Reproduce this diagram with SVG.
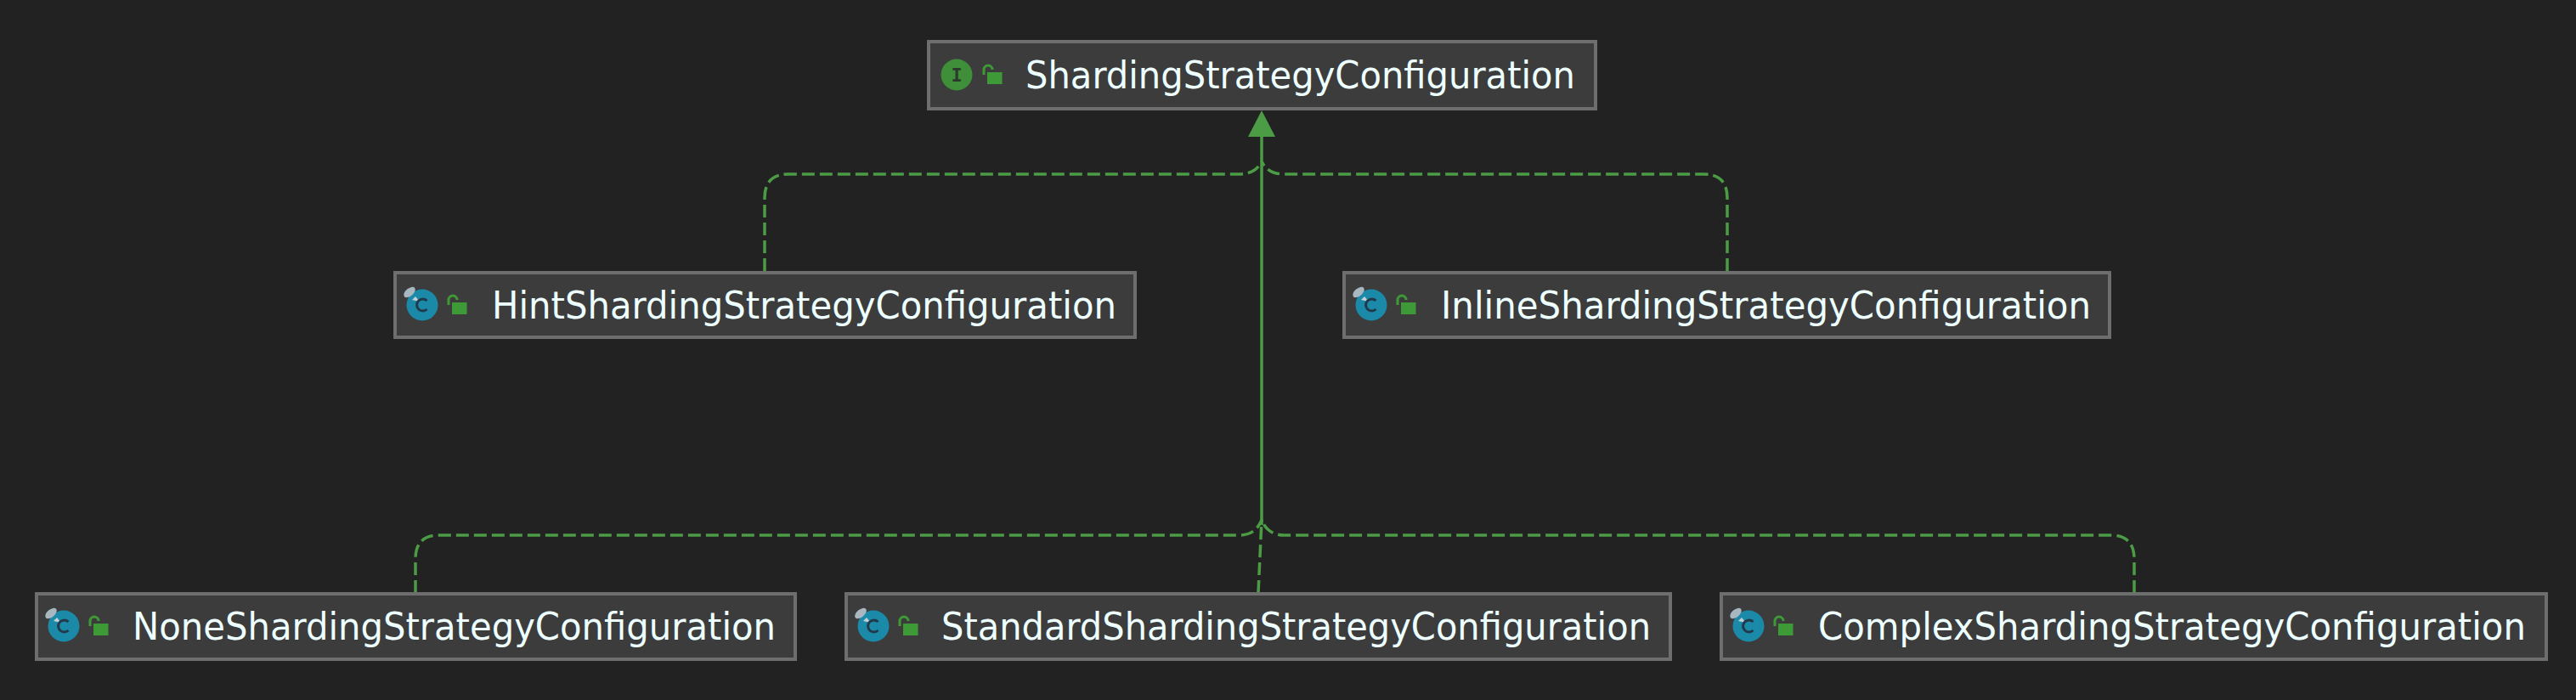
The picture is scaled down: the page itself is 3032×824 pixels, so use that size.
<svg xmlns="http://www.w3.org/2000/svg" width="3032" height="824" viewBox="0 0 3032 824">
<style>
.box{fill:#3c3c3c;stroke:#6e6e6e;stroke-width:4}
.t{font-family:"DejaVu Sans",sans-serif;font-size:45px;fill:#eeffff}
.e{fill:none;stroke:#4b9c45;stroke-width:3.5}
.d{stroke-dasharray:15 6}
.ic{font-family:"DejaVu Sans Mono",monospace;font-size:22px;font-weight:bold;text-anchor:middle}
</style>
<defs>
<g id="lock">
<rect x="0" y="-3" width="17.5" height="14" fill="#3e9a36"/>
<path d="M-4 0V-6a5 5 0 0 1 10 0" fill="none" stroke="#3e9a36" stroke-width="3"/>
</g>
<g id="cls">
<circle r="18.5" fill="#1b8aa9"/>
<path d="M-8 -10 L-3 -4 L-12 -6Z" fill="#c3d0d8"/>
<ellipse cx="-15" cy="-15" rx="8" ry="4.5" transform="rotate(-40 -15 -15)" fill="#a9b7c0"/>
<path d="M5.5 -5A7 7 0 1 0 5.5 5" fill="none" stroke="#22394a" stroke-width="3"/>
</g>
</defs>
<rect width="3032" height="824" fill="#222222"/>
<g id="connectors">
<path class="e" d="M1485 158V618"/>
<path d="M1485 130L1501 161H1469Z" fill="#4b9c45"/>
<path class="e d" d="M900 319V233Q900 205 928 205H1458Q1478 205 1485 190"/>
<path class="e d" d="M2033 319V233Q2033 205 2005 205H1512Q1492 205 1485 190"/>
<path class="e d" d="M489 698V658Q489 630 517 630H1458Q1478 630 1485 612"/>
<path class="e d" d="M2512 698V658Q2512 630 2484 630H1512Q1492 630 1485 612"/>
<path class="e d" d="M1481 698L1485 612"/>
</g>
<g id="ShardingStrategyConfiguration">
<rect class="box" x="1093" y="49" width="785" height="79"/>
<circle cx="1126" cy="88" r="18.5" fill="#3f8f3a"/>
<text class="ic" x="1126" y="96" fill="#2b3b2b">I</text>
<use href="#lock" x="1162" y="88"/>
<text class="t" x="1207" y="104" textLength="647" lengthAdjust="spacingAndGlyphs">ShardingStrategyConfiguration</text>
</g>
<g id="HintShardingStrategyConfiguration">
<rect class="box" x="465" y="321" width="871" height="76"/>
<use href="#cls" x="497" y="359"/>
<use href="#lock" x="532" y="359"/>
<text class="t" x="579" y="375" textLength="735" lengthAdjust="spacingAndGlyphs">HintShardingStrategyConfiguration</text>
</g>
<g id="InlineShardingStrategyConfiguration">
<rect class="box" x="1582" y="321" width="901" height="76"/>
<use href="#cls" x="1614" y="359"/>
<use href="#lock" x="1649" y="359"/>
<text class="t" x="1696" y="375" textLength="765" lengthAdjust="spacingAndGlyphs">InlineShardingStrategyConfiguration</text>
</g>
<g id="NoneShardingStrategyConfiguration">
<rect class="box" x="43" y="699" width="893" height="77"/>
<use href="#cls" x="75" y="737"/>
<use href="#lock" x="110" y="737"/>
<text class="t" x="156" y="753" textLength="757" lengthAdjust="spacingAndGlyphs">NoneShardingStrategyConfiguration</text>
</g>
<g id="StandardShardingStrategyConfiguration">
<rect class="box" x="996" y="699" width="970" height="77"/>
<use href="#cls" x="1028" y="737"/>
<use href="#lock" x="1063" y="737"/>
<text class="t" x="1108" y="753" textLength="835" lengthAdjust="spacingAndGlyphs">StandardShardingStrategyConfiguration</text>
</g>
<g id="ComplexShardingStrategyConfiguration">
<rect class="box" x="2026" y="699" width="971" height="77"/>
<use href="#cls" x="2058" y="737"/>
<use href="#lock" x="2093" y="737"/>
<text class="t" x="2140" y="753" textLength="833" lengthAdjust="spacingAndGlyphs">ComplexShardingStrategyConfiguration</text>
</g>
</svg>
